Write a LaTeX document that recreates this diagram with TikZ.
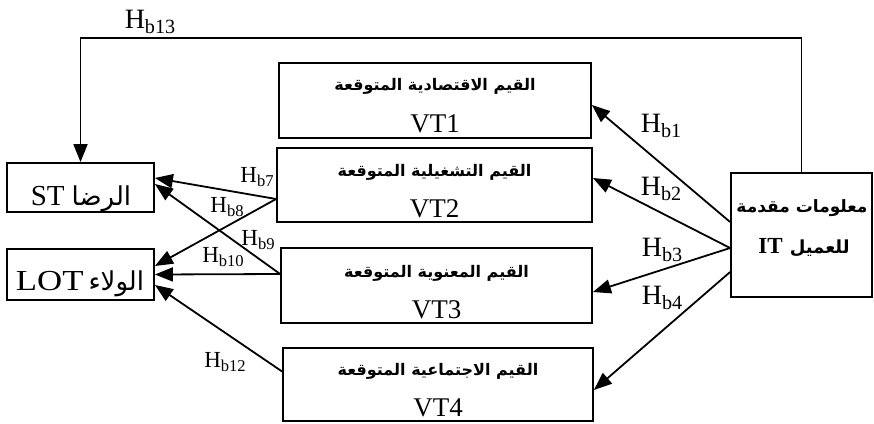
\documentclass[tikz,border=0pt]{standalone}
\usepackage{graphicx}
\usepackage{fontspec}
\setmainfont{Liberation Serif}
\newfontfamily\arb[Script=Arabic]{DejaVu Sans}
\TeXXeTstate=1
\usetikzlibrary{arrows.meta,calc}
\newcommand\hlab[1]{H\raisebox{-0.2em}{\scalebox{0.72}{b#1}}}
\begin{document}
\begin{tikzpicture}[x=1pt,y=-1pt,
  box/.style={draw, line width=1.8pt, inner sep=0pt, rectangle},
  conn/.style={line width=1.8pt, -{Triangle[length=18pt,width=14pt]}},
  hbig/.style={inner sep=0pt, font=\fontsize{28}{28}\selectfont},
  hsmall/.style={inner sep=0pt, font=\fontsize{23}{23}\selectfont},
  arvt/.style={inner sep=0pt, font=\arb\bfseries\fontsize{16}{16}\selectfont},
  latvt/.style={inner sep=0pt, anchor=base, font=\fontsize{27}{27}\selectfont},
  lbox/.style={inner sep=0pt, anchor=base, font=\fontsize{29}{29}\selectfont},
  ittxt/.style={inner sep=0pt, anchor=base},
]
\useasboundingbox (0,0) rectangle (874,423);
% boxes
\node[box, minimum width=312pt, minimum height=75pt] (vt1) at (435,100.5) {};
\node[box, minimum width=315pt, minimum height=74pt] (vt2) at (434.5,185) {};
\node[box, minimum width=311pt, minimum height=75pt] (vt3) at (436.5,285.5) {};
\node[box, minimum width=310pt, minimum height=73pt] (vt4) at (438,384.5) {};
\node[box, minimum width=147pt, minimum height=49pt] (st) at (80.5,187.5) {};
\node[box, minimum width=147pt, minimum height=51pt] (lot) at (80.5,274.5) {};
\node[box, minimum width=141pt, minimum height=124pt] (it) at (801.5,235) {};
% texts
\node[arvt] (vt1a) at (435,86) {\beginR القيم الاقتصادية المتوقعة\endR};
\node[latvt] (vt1b) at (435,132) {VT1};
\node[arvt] (vt2a) at (434.5,172) {\beginR القيم التشغيلية المتوقعة\endR};
\node[latvt] (vt2b) at (434.5,217) {VT2};
\node[arvt] (vt3a) at (436.5,273) {\beginR القيم المعنوية المتوقعة\endR};
\node[latvt] (vt3b) at (436.5,318) {VT3};
\node[arvt] (vt4a) at (438,371) {\beginR القيم الاجتماعية المتوقعة\endR};
\node[latvt] (vt4b) at (438,416) {VT4};
\node[lbox] (stt) at (81,205) {\beginR{\arb\fontsize{26}{26}\selectfont الرضا}\hspace{7pt}\beginL ST\endL\endR};
\node[lbox] (lott) at (80,290) {\beginR{\arb\fontsize{26}{26}\selectfont الولاء}\hspace{5pt}\beginL\scalebox{1.2}[1]{LOT}\endL\endR};
\node[ittxt] (it1) at (802,212) {\arb\bfseries\fontsize{17}{17}\selectfont\beginR معلومات مقدمة\endR};
\node[ittxt] (it2) at (804,253) {\beginR{\arb\bfseries\fontsize{18}{18}\selectfont للعميل}\hspace{7pt}{\bfseries\fontsize{23}{23}\selectfont\beginL IT\endL}\endR};
% connectors
\coordinate (topc) at (440,38);
\draw[conn] (it.north) |- (topc) -| (st.north);
\draw[conn] ([yshift=13pt]it.west) -- ([yshift=-4.5pt]vt1.east);
\draw[conn] ([yshift=-13pt]it.west) -- ([yshift=7pt]vt2.east);
\draw[conn] ([yshift=-13pt]it.west) -- ([yshift=-6.5pt]vt3.east);
\draw[conn] ([yshift=-37pt]it.west) -- ([yshift=-5.5pt]vt4.east);
\draw[conn] ([yshift=-14pt]vt2.west) -- ([yshift=9.5pt]st.east);
\draw[conn] ([yshift=-14pt]vt2.west) -- ([yshift=8.5pt]lot.east);
\draw[conn] ([yshift=11.5pt]vt3.west) -- ([yshift=3.5pt]st.east);
\draw[conn] ([yshift=11.5pt]vt3.west) -- (lot.east);
\draw[conn] ([yshift=13pt]vt4.west) -- ([yshift=-10.5pt]lot.east);
% labels
\node[hbig] (l13) at (150,22) {\hlab{13}};
\node[hbig] (l1) at (661,126) {\hlab{1}};
\node[hbig] (l2) at (661,189) {\hlab{2}};
\node[hbig] (l3) at (662,250) {\hlab{3}};
\node[hbig] (l4) at (662,298) {\hlab{4}};
\node[hsmall] (l7) at (257,177) {\hlab{7}};
\node[hsmall] (l8) at (227,207) {\hlab{8}};
\node[hsmall] (l9) at (258,240) {\hlab{9}};
\node[hsmall] (l10) at (223,257) {\hlab{10}};
\node[hsmall] (l12) at (225,362) {\hlab{12}};
\end{tikzpicture}
\end{document}
